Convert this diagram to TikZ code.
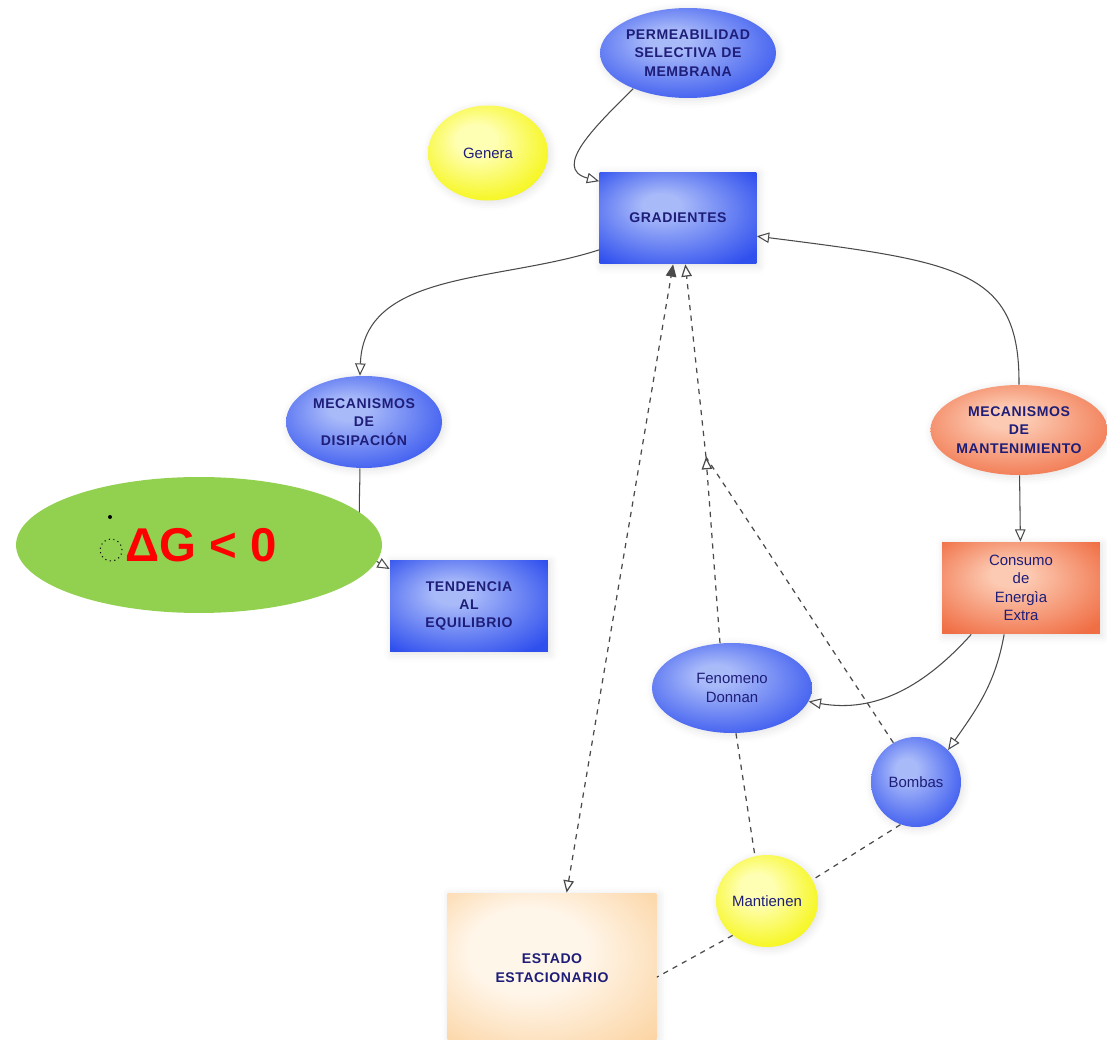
\documentclass[tikz,border=0pt]{standalone}
\usepackage{fontspec}
\setmainfont{Liberation Sans}
\newfontfamily\capsfont[LetterSpace=4]{Liberation Sans}
\usepackage{xcolor}
\definecolor{nodeblue}{HTML}{3050EE}
\definecolor{paleblue}{HTML}{A9BAF9}
\definecolor{nodeorange}{HTML}{F06E44}
\definecolor{paleorange}{HTML}{FCCAB2}
\definecolor{nodeyellow}{HTML}{F4F400}
\definecolor{paleyellow}{HTML}{FFFFB4}
\definecolor{nodepeach}{HTML}{FBD09A}
\definecolor{palepeach}{HTML}{FFF6EA}
\definecolor{deltagreen}{HTML}{92D050}
\definecolor{labelnavy}{HTML}{1E1E78}
\definecolor{linkgray}{HTML}{4A4A4A}
\usepackage{tikz}
\usetikzlibrary{positioning,shapes.geometric,arrows.meta,shadows.blur}

\pgfdeclareradialshading{blueglow}{\pgfpoint{-6bp}{8bp}}{color(0bp)=(paleblue); color(6bp)=(paleblue); color(34bp)=(nodeblue); color(50bp)=(nodeblue)}
\pgfdeclareradialshading{orangeglow}{\pgfpoint{-4bp}{8bp}}{color(0bp)=(paleorange); color(6bp)=(paleorange); color(34bp)=(nodeorange); color(50bp)=(nodeorange)}
\pgfdeclareradialshading{yellowglow}{\pgfpoint{-6bp}{8bp}}{color(0bp)=(paleyellow); color(8bp)=(paleyellow); color(34bp)=(nodeyellow); color(50bp)=(nodeyellow)}
\pgfdeclareradialshading{peachglow}{\pgfpoint{-8bp}{8bp}}{color(0bp)=(palepeach); color(14bp)=(palepeach); color(40bp)=(nodepeach); color(50bp)=(nodepeach)}

\begin{document}
\begin{tikzpicture}[
  x=0.02cm, y=-0.02cm,
  glow/.style={blur shadow={shadow xshift=0.4mm, shadow yshift=-0.4mm,
               shadow blur radius=1.6mm, shadow opacity=12}},
  oval/.style={ellipse, inner sep=0pt, align=center, text=labelnavy, glow},
  box/.style={rectangle, inner sep=0pt, align=center, text=labelnavy, glow},
  caps/.style={font=\capsfont\bfseries\fontsize{8}{10.5}\selectfont},
  plain/.style={font=\fontsize{8.5}{10.5}\selectfont},
  link/.style={-{Triangle[open, length=7pt, width=6pt]}, color=linkgray, line width=0.6pt},
  dlink/.style={color=linkgray, line width=0.7pt, dash pattern=on 3pt off 3pt}
]
  \useasboundingbox (0,0) rectangle (1107,1040);

  \node[oval, caps, shading=blueglow, minimum width=3.52cm, minimum height=1.8cm] (pm) at (688,53) {PERMEABILIDAD\\SELECTIVA DE\\MEMBRANA};
  \node[oval, plain, shading=yellowglow, minimum width=2.4cm, minimum height=1.9cm] (gen) at (488,153) {Genera};
  \node[box, caps, shading=blueglow, minimum width=3.14cm, minimum height=1.84cm] (gr) at (678,218) {GRADIENTES};
  \node[oval, caps, shading=blueglow, minimum width=3.12cm, minimum height=1.84cm] (dis) at (364,422) {MECANISMOS\\DE\\DISIPACIÓN};
  \node[box, caps, shading=blueglow, minimum width=3.16cm, minimum height=1.84cm] (ten) at (469,606) {TENDENCIA\\AL\\EQUILIBRIO};
  \node[oval, caps, shading=orangeglow, minimum width=3.4cm, minimum height=1.8cm] (man) at (1019,430) {MECANISMOS\\DE\\MANTENIMIENTO};
  \node[box, plain, shading=orangeglow, minimum width=3.16cm, minimum height=1.84cm] (con) at (1021,588) {Consumo\\de\\Energìa\\Extra};
  \node[oval, plain, shading=blueglow, minimum width=3.2cm, minimum height=1.8cm] (fd) at (732,688) {Fenomeno\\Donnan};
  \node[oval, plain, shading=blueglow, minimum width=1.8cm, minimum height=1.8cm] (bom) at (916,782) {Bombas};
  \node[oval, plain, shading=yellowglow, minimum width=2.04cm, minimum height=1.84cm] (mant) at (767,901) {Mantienen};
  \node[box, caps, shading=peachglow, minimum width=4.18cm, minimum height=3cm] (est) at (552,968) {ESTADO\\ESTACIONARIO};

  \draw[link] (pm.213) to[out=225, in=165, looseness=1.3] (gr.155);
  \draw[link] (gr.202) to[out=198, in=88] (dis.95);
  \draw[link] (dis.265) to[out=270, in=150] (ten.155);
  \draw[link] (man.north) .. controls (1020,270) and (960,262) .. (gr.347);
  \draw[link] (man) -- (con);
  \draw[link] (con.223) to[out=228, in=-10] (fd.-10);
  \draw[link] (con.250) to[out=260, in=55] (bom.45);

  \coordinate (j) at (706,457);
  \draw[dlink, {Triangle[open, length=7pt, width=6pt]}-{Triangle[length=7pt, width=6pt]}] (est.79) -- (gr.264);
  \draw[dlink, -{Triangle[open, length=7pt, width=6pt]}] (fd.105) -- (j);
  \draw[dlink] (bom.120) -- (j);
  \draw[dlink, -{Triangle[open, length=7pt, width=6pt]}] (j) -- (gr.279);
  \draw[dlink] (fd.275) -- (mant.105);
  \draw[dlink] (bom.250) -- (mant.25);
  \draw[dlink] (mant.225) -- (est.355);

  \node[ellipse, fill=deltagreen, inner sep=0pt, minimum width=7.32cm, minimum height=2.72cm,
        text=red, font=\bfseries\fontsize{27}{30}\selectfont] (dg) at (199,545) {\hspace{0.1cm}ΔG < 0};
  \node[circle, draw, dotted, line width=0.6pt, inner sep=0pt, minimum size=0.44cm] (ring) at (111,550) {};
  \node[circle, fill=black, inner sep=0pt, minimum size=0.08cm] (dot) at (110,517) {};
\end{tikzpicture}
\end{document}
